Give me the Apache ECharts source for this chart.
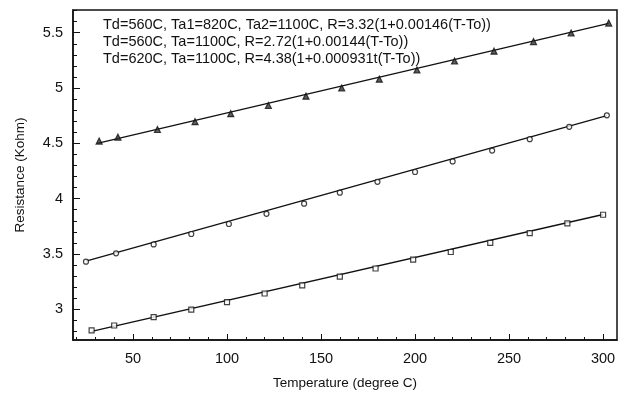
<!DOCTYPE html>
<html>
<head>
<meta charset="utf-8">
<script src="https://cdn.jsdelivr.net/npm/echarts@6/dist/echarts.min.js"></script>
<style>html,body{margin:0;padding:0;background:#fff}#c{width:620px;height:395px}</style>
</head>
<body>
<div id="c"></div>
<script>
// Tick labels
var xTicks = [50, 100, 150, 200, 250, 300];
var yTicks = [3, 3.5, 4, 4.5, 5, 5.5];
var xMinor = [20,30,40,60,70,80,90,110,120,130,140,160,170,180,190,210,220,230,240,260,270,280,290];
var yMinor = [2.8,2.9,3.1,3.2,3.3,3.4,3.6,3.7,3.8,3.9,4.1,4.2,4.3,4.4,4.6,4.7,4.8,4.9,5.1,5.2,5.3,5.4,5.6,5.7];

// Legend lines
var legendLines = [
  'Td=560C, Ta1=820C, Ta2=1100C, R=3.32(1+0.00146(T-To))',
  'Td=560C, Ta=1100C, R=2.72(1+0.00144(T-To))',
  'Td=620C, Ta=1100C, R=4.38(1+0.000931t(T-To))'
];

// Series 1 (triangles)
var tempA = [32, 42, 63, 83, 102, 122, 142, 161, 181, 201, 221, 242, 263, 283, 303];
var resA  = [4.521, 4.556, 4.625, 4.696, 4.768, 4.842, 4.926, 5.000, 5.080, 5.163, 5.244, 5.333, 5.420, 5.497, 5.587];
var fitTA = [31, 303];
var fitRA = [4.500, 5.585];

// Series 2 (circles)
var tempB = [25, 41, 61, 81, 101, 121, 141, 160, 180, 200, 220, 241, 261, 282, 302];
var resB  = [3.431, 3.506, 3.587, 3.681, 3.771, 3.863, 3.955, 4.054, 4.152, 4.241, 4.337, 4.435, 4.538, 4.649, 4.753];
var fitTB = [25, 302];
var fitRB = [3.435, 4.750];

// Series 3 (squares)
var tempC = [28, 40, 61, 81, 100, 120, 140, 160, 179, 199, 219, 240, 261, 281, 300];
var resC  = [2.810, 2.854, 2.929, 2.997, 3.065, 3.143, 3.217, 3.295, 3.369, 3.449, 3.518, 3.601, 3.688, 3.777, 3.855];
var fitTC = [28, 300];
var fitRC = [2.800, 3.857];

function zip(a, b) { return a.map(function (v, i) { return [v, b[i]]; }); }

var FONT = 'Liberation Sans, Arial, sans-serif';
var X_MIN = 18.1, X_MAX = 307.4, Y_MIN = 2.723, Y_MAX = 5.705;

var chart = echarts.init(document.getElementById('c'), null, {renderer: 'canvas'});

function scatter(data, symbol, size, fill) {
  return {
    type: 'scatter', data: data, symbol: symbol, symbolSize: size,
    itemStyle: {color: fill, borderColor: '#111', borderWidth: 1.2},
    z: 3, silent: true
  };
}
function fit(data) {
  return {
    type: 'line', data: data, showSymbol: false, symbol: 'none',
    lineStyle: {color: '#111', width: 1.3}, z: 2, silent: true
  };
}

chart.setOption({
  animation: false,
  backgroundColor: '#fff',
  textStyle: {fontFamily: FONT},
  title: {
    text: legendLines.join('\n'),
    left: 103, top: 16, padding: 0,
    textStyle: {fontFamily: FONT, fontSize: 14.5, fontWeight: 'normal', color: '#111', lineHeight: 17}
  },
  grid: {left: 73, right: 3, top: 10, bottom: 51, show: true, borderColor: '#111', borderWidth: 1.5, backgroundColor: 'transparent'},
  xAxis: [{
    type: 'value', min: X_MIN, max: X_MAX,
    name: 'Temperature (degree C)', nameLocation: 'middle', nameGap: 36,
    nameTextStyle: {fontFamily: FONT, fontSize: 13.5, color: '#111'},
    axisLine: {lineStyle: {color: '#111', width: 1.5}},
    axisTick: {inside: true, length: 6, customValues: xTicks, lineStyle: {color: '#111'}},
    axisLabel: {customValues: xTicks, fontFamily: FONT, fontSize: 14.5, color: '#111', margin: 11},
    splitLine: {show: false}
  }, {
    type: 'value', min: X_MIN, max: X_MAX, position: 'bottom',
    axisLine: {show: false},
    axisTick: {inside: true, length: 3, customValues: xMinor, lineStyle: {color: '#111'}},
    axisLabel: {show: false}, splitLine: {show: false}
  }],
  yAxis: [{
    type: 'value', min: Y_MIN, max: Y_MAX,
    name: 'Resistance (Kohm)', nameLocation: 'middle', nameGap: 46,
    nameTextStyle: {fontFamily: FONT, fontSize: 13.5, color: '#111'},
    axisLine: {lineStyle: {color: '#111', width: 1.5}},
    axisTick: {inside: true, length: 7, customValues: yTicks, lineStyle: {color: '#111'}},
    axisLabel: {customValues: yTicks, fontFamily: FONT, fontSize: 14.5, color: '#111', margin: 10},
    splitLine: {show: false}
  }, {
    type: 'value', min: Y_MIN, max: Y_MAX, position: 'left',
    axisLine: {show: false},
    axisTick: {inside: true, length: 4, customValues: yMinor, lineStyle: {color: '#111'}},
    axisLabel: {show: false}, splitLine: {show: false}
  }],
  series: [
    fit(zip(fitTA, fitRA)),
    scatter(zip(tempA, resA), 'triangle', 6, '#333'),
    fit(zip(fitTB, fitRB)),
    scatter(zip(tempB, resB), 'circle', 5, '#fff'),
    fit(zip(fitTC, fitRC)),
    scatter(zip(tempC, resC), 'rect', 5, '#fff')
  ]
});
</script>
</body>
</html>
